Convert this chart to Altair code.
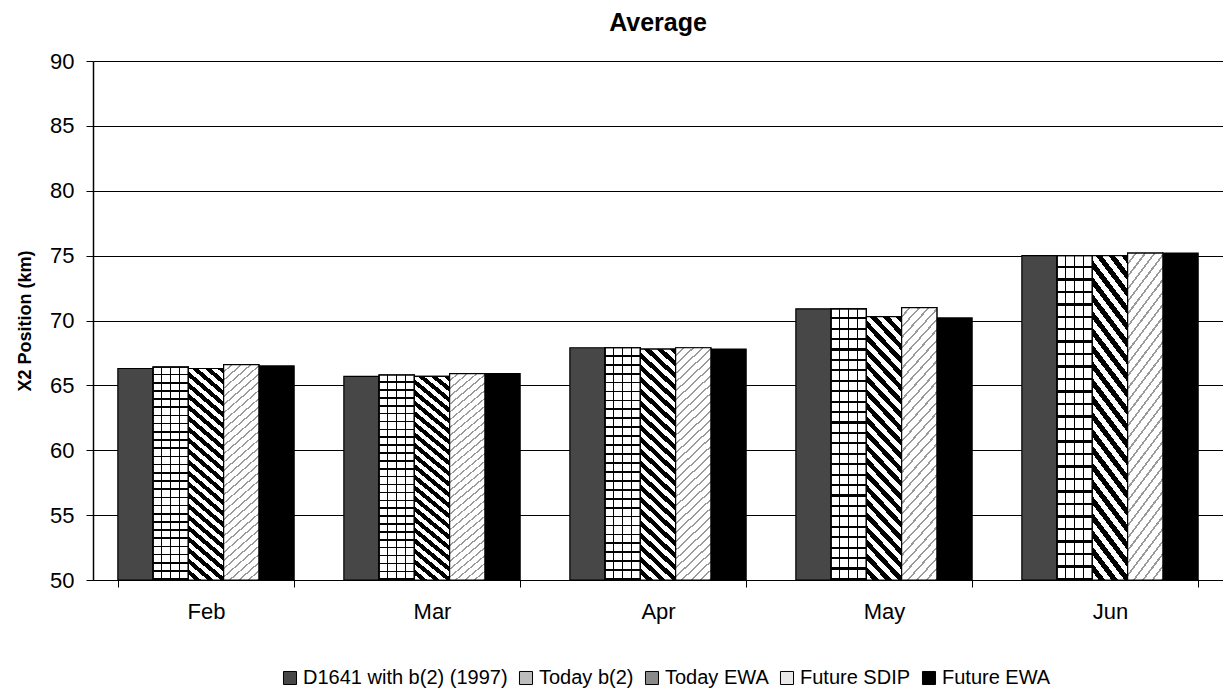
import altair as alt
import pandas as pd

months = ["Feb", "Mar", "Apr", "May", "Jun"]
series = ["D1641 with b(2) (1997)", "Today b(2)", "Today EWA", "Future SDIP", "Future EWA"]

d1641 = [66.3, 65.7, 67.9, 70.9, 75.0]
today_b2 = [66.4, 65.8, 67.9, 70.9, 75.0]
today_ewa = [66.3, 65.7, 67.8, 70.3, 75.0]
future_sdip = [66.6, 65.9, 67.9, 71.0, 75.2]
future_ewa = [66.5, 65.9, 67.8, 70.2, 75.2]

y_ticks = [50, 55, 60, 65, 70, 75, 80, 85, 90]
fills = ["#474747", "#bdbdbd", "#8a8a8a", "#e8e8e8", "#000000"]

rows = []
for s, vals in zip(series, [d1641, today_b2, today_ewa, future_sdip, future_ewa]):
    for m, v in zip(months, vals):
        rows.append({"month": m, "series": s, "value": v})
df = pd.DataFrame(rows)

FONT = "Liberation Sans"


def stripes(n, frac, bg, fg, tmax, x1, y1, x2, y2):
    p = tmax / n
    stops = []
    for i in range(n):
        a = i * p
        b = a + (1 - frac) * p
        c = a + p
        stops += [{"offset": round(a, 5), "color": bg}, {"offset": round(b, 5), "color": bg},
                  {"offset": round(b, 5), "color": fg}, {"offset": round(c, 5), "color": fg}]
    if tmax < 1:
        stops.append({"offset": 1, "color": bg})
    return {"gradient": "linear", "stops": stops, "x1": x1, "y1": y1, "x2": x2, "y2": y2}


K = 7.0
TMAX = (1 + K) / (1 + K * K)
grid_v = stripes(4, 0.07, "white", "black", 1.0, 0, 0, 1, 0)
grid_h = stripes(26, 0.2, "rgba(0,0,0,0)", "black", 1.0, 0, 0, 0, 1)
hatch = stripes(22, 0.5, "white", "black", TMAX, 0, 1, 1, 1 - K)
dots = stripes(30, 0.22, "white", "#9a9a9a", TMAX, 0, 0, 1, K)

x_enc = alt.X("month:N", sort=months,
              scale=alt.Scale(paddingInner=0.22, paddingOuter=0.11),
              axis=alt.Axis(title=None, labelAngle=0, tickBand="extent", tickSize=7,
                            tickColor="black", domainColor="black", domainWidth=1.2,
                            labelFontSize=22, labelPadding=14, labelFont=FONT,
                            labelColor="black"))
xo_enc = alt.XOffset("series:N", sort=series,
                     scale=alt.Scale(domain=series, paddingInner=0, paddingOuter=0))
y_enc = alt.Y("value:Q",
              scale=alt.Scale(domain=[50, 90], nice=False, zero=False),
              axis=alt.Axis(title="X2 Position (km)", values=y_ticks, tickSize=7,
                            tickColor="black", domainColor="black", domainWidth=1.5,
                            gridColor="black", gridWidth=1, gridOpacity=1,
                            labelFontSize=22, labelPadding=12, labelFont=FONT,
                            labelColor="black", titleFont=FONT, titleFontSize=18,
                            titleFontWeight="bold", titleColor="black",
                            titlePadding=15))

base = alt.Chart(df)

solid = base.mark_bar(stroke="black", strokeWidth=1.2).encode(
    x=x_enc, xOffset=xo_enc, y=y_enc, y2=alt.datum(50),
    color=alt.Color("series:N", sort=series,
                    scale=alt.Scale(domain=series, range=fills),
                    legend=alt.Legend(title=None, orient="none", legendX=187,
                                      legendY=607, direction="horizontal",
                                      symbolType="square", symbolSize=170,
                                      symbolStrokeColor="black",
                                      symbolStrokeWidth=1, labelLimit=500,
                                      labelFontSize=20, labelFont=FONT,
                                      labelColor="black", columnPadding=8,
                                      labelOffset=3)),
)


def overlay(name, fill):
    return base.transform_filter(alt.datum.series == name).mark_bar(
        fill=fill, stroke="black", strokeWidth=1.2
    ).encode(x=x_enc, xOffset=xo_enc, y=y_enc, y2=alt.datum(50))


chart = alt.layer(
    solid,
    overlay("Today b(2)", grid_v),
    overlay("Today b(2)", grid_h),
    overlay("Today EWA", hatch),
    overlay("Future SDIP", dots),
).properties(
    width=1130,
    height=519,
    title=alt.TitleParams("Average", fontSize=25, fontWeight="bold", font=FONT,
                          color="black", anchor="middle", offset=14),
    autosize=alt.AutoSizeParams(type="none"),
    padding={"left": 85, "top": 53, "right": 0, "bottom": 116},
).configure_view(stroke=None)

chart.save("out.html", embed_options={"renderer": "svg", "actions": False})
